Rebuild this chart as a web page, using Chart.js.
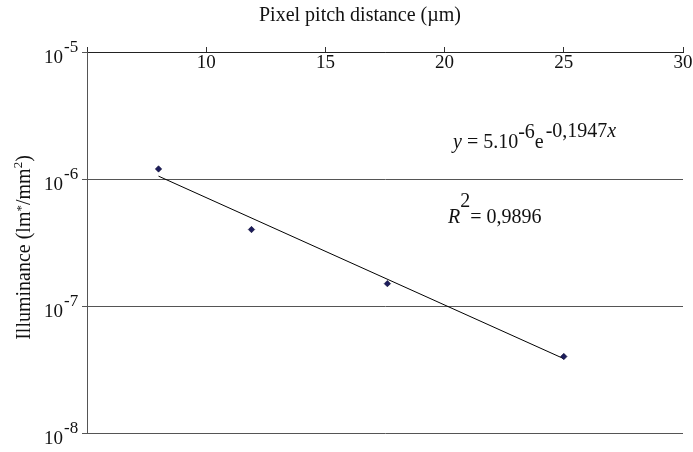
<!DOCTYPE html>
<html>
<head>
<meta charset="utf-8">
<script src="https://cdn.jsdelivr.net/npm/chart.js@4.4.1/dist/chart.umd.min.js"></script>
<style>
  html, body { margin: 0; padding: 0; background: #fff; }
</style>
</head>
<body>
<canvas id="pitch-chart" width="693" height="452"></canvas>
<script>
// measured illuminance vs pixel pitch
const pitchUm = [8, 11.9, 17.6, 25]
const illuminance = [1.2e-6, 4.0e-7, 1.5e-7, 4.0e-8]

// exponential fit y = a.e^(b.x), drawn over the measured range
const fitA = 5e-6
const fitB = -0.1947
const fitR2 = '0,9896'
const fitRange = [8, 25]

const xTicks = [5, 10, 15, 20, 25, 30]
const xTickLabels = ['', '10', '15', '20', '25', '30']
const yTicks = [1e-5, 1e-6, 1e-7, 1e-8]
const yTickExp = ['-5', '-6', '-7', '-8']

const serif = '"Liberation Serif", "Times New Roman", serif'
const font = (size, italic) => (italic ? 'italic ' : '') + size + 'px ' + serif

// draws a row of text pieces, each with its own offset (for superscripts)
function runsWidth(ctx, runs, size) {
  let w = 0
  runs.forEach(r => {
    ctx.font = font(r.size || size, r.italic)
    w += ctx.measureText(r.t).width + (r.gap || 0)
  })
  return w
}
function drawRuns(ctx, x, y, runs, size) {
  runs.forEach(r => {
    ctx.font = font(r.size || size, r.italic)
    ctx.fillText(r.t, x, y + (r.dy || 0))
    x += ctx.measureText(r.t).width + (r.gap || 0)
  })
  return x
}

const textPlugin = {
  id: 'pitchText',
  afterDraw(chart) {
    const ctx = chart.ctx
    const xs = chart.scales.x
    const ys = chart.scales.y
    const area = chart.chartArea
    ctx.save()
    ctx.fillStyle = '#111'
    ctx.textBaseline = 'alphabetic'

    // axis title on top
    ctx.font = font(20)
    ctx.textAlign = 'center'
    ctx.fillText('Pixel pitch distance (\u00b5m)', 360, 21)

    // x tick labels sit just under the top axis line
    ctx.font = font(19)
    xTicks.forEach((v, i) => {
      ctx.fillText(xTickLabels[i], xs.getPixelForValue(v), area.top + 16)
    })

    // y tick labels as 10 with raised exponent
    yTicks.forEach((v, i) => {
      const py = ys.getPixelForValue(v)
      ctx.font = font(19)
      ctx.textAlign = 'right'
      ctx.fillText('10', area.left - 24, py + 11)
      ctx.font = font(17)
      ctx.textAlign = 'left'
      ctx.fillText(yTickExp[i], area.left - 23, py)
    })

    // rotated y axis title
    ctx.textAlign = 'left'
    const yTitle = [
      { t: 'Illuminance (lm' },
      { t: '*', size: 13, dy: -5 },
      { t: '/mm' },
      { t: '2', size: 13, dy: -8 },
      { t: ')' }
    ]
    ctx.save()
    ctx.translate(30, (area.top + area.bottom) / 2 + 5)
    ctx.rotate(-Math.PI / 2)
    drawRuns(ctx, -runsWidth(ctx, yTitle, 20) / 2, 0, yTitle, 20)
    ctx.restore()

    // fit equation and R squared
    drawRuns(ctx, 453, 148, [
      { t: 'y', italic: true },
      { t: ' = 5.10' },
      { t: '-6', dy: -10 },
      { t: 'e', gap: 2 },
      { t: '-0,1947', dy: -11 },
      { t: 'x', italic: true, dy: -11 }
    ], 20)
    drawRuns(ctx, 448, 223, [
      { t: 'R', italic: true },
      { t: '2', dy: -16 },
      { t: '= ' + fitR2 }
    ], 20)
    ctx.restore()
  }
}

const chart = document.getElementById('pitch-chart')
const myChart = new Chart(chart, {
  type: 'scatter',
  data: {
    datasets: [{
      label: 'Measured',
      data: pitchUm.map((x, i) => ({ x: x, y: illuminance[i] })),
      pointStyle: 'rectRot',
      pointRadius: 3.2,
      backgroundColor: '#1c1c5c',
      borderColor: '#0a0a30',
      borderWidth: 0.6
    }, {
      label: 'Exponential fit',
      data: fitRange.map(x => ({ x: x, y: fitA * Math.exp(fitB * x) })),
      showLine: true,
      borderColor: '#000',
      borderWidth: 1,
      pointRadius: 0
    }]
  },
  options: {
    responsive: false,
    animation: false,
    layout: { padding: { left: 0, top: 0, right: 10, bottom: 19 } },
    plugins: {
      legend: { display: false },
      tooltip: { enabled: false }
    },
    scales: {
      x: {
        type: 'linear',
        position: 'top',
        min: 5,
        max: 30,
        afterBuildTicks: s => { s.ticks = xTicks.map(v => ({ value: v })) },
        afterFit: s => { s.height = 52 },
        ticks: { display: false },
        grid: { drawOnChartArea: false, drawTicks: true, tickLength: 5, color: '#333' },
        border: { display: true, color: '#222', width: 1 }
      },
      y: {
        type: 'logarithmic',
        min: 1e-8,
        max: 1e-5,
        afterBuildTicks: s => { s.ticks = yTicks.map(v => ({ value: v })) },
        afterFit: s => { s.width = 87 },
        ticks: { display: false },
        grid: { color: '#555', lineWidth: 1, tickLength: 5 },
        border: { display: true, color: '#555', width: 1 }
      }
    }
  },
  plugins: [textPlugin]
})
</script>
</body>
</html>
